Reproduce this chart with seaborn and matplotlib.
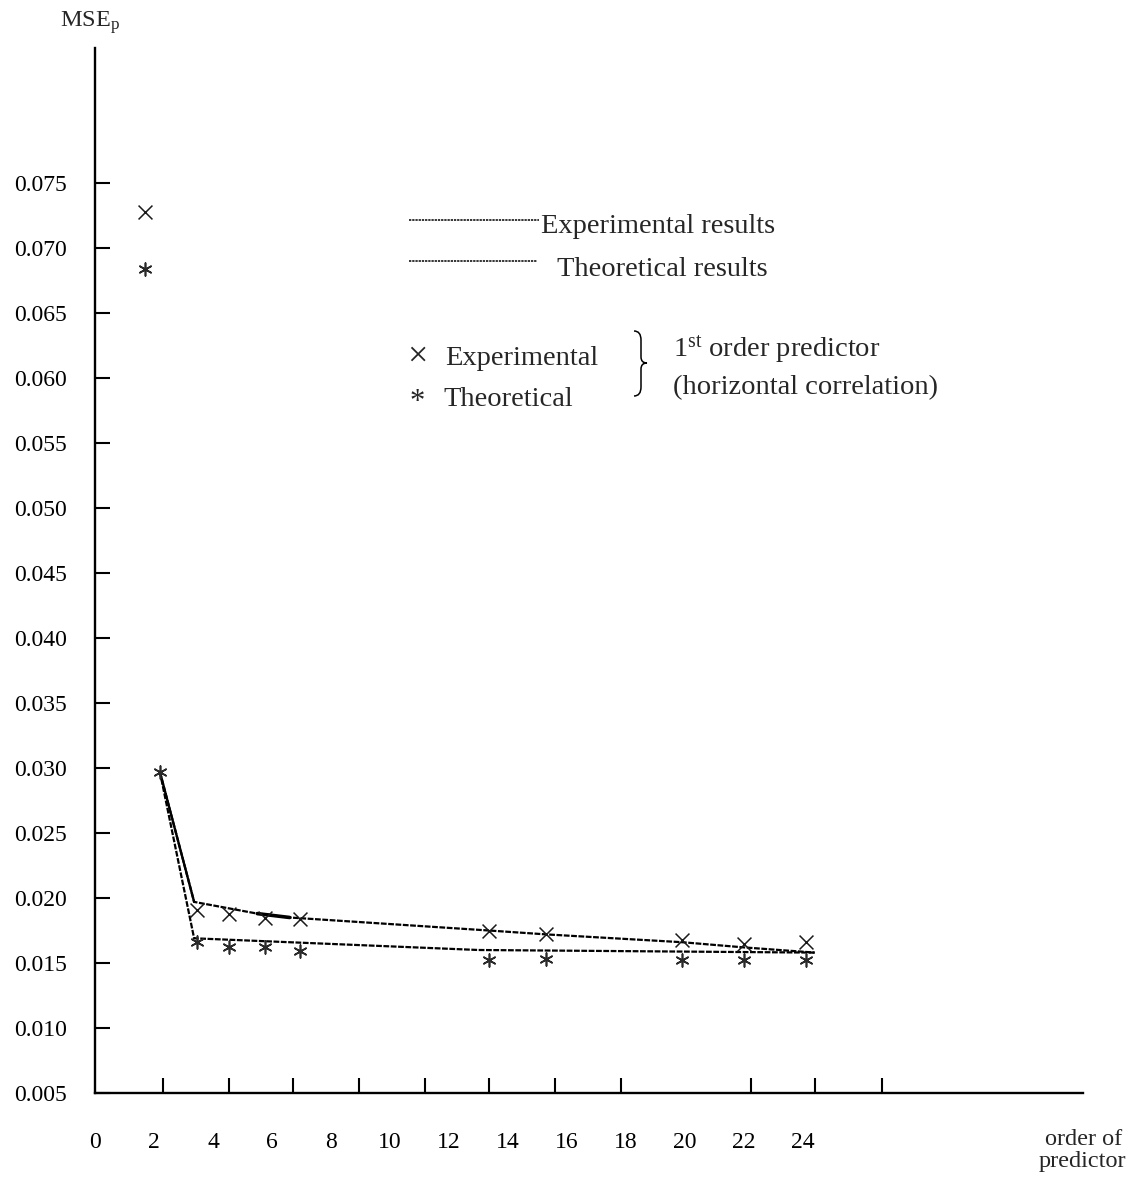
import matplotlib
matplotlib.use("Agg")
import matplotlib.pyplot as plt
import seaborn as sns
from matplotlib.path import Path
from matplotlib.patches import PathPatch
from matplotlib.lines import Line2D

# ---------------- data ----------------
exp_marker_order = [1.7, 3.45, 4.55, 5.75, 6.95, 13.35, 15.3, 19.9, 22.0, 24.1]
exp_marker_mse = [0.0728, 0.0191, 0.0188, 0.0185, 0.0184, 0.0175, 0.0172, 0.0168, 0.0165, 0.0166]

theo_marker_order = [1.7, 2.2, 3.45, 4.55, 5.75, 6.95, 13.35, 15.3, 19.9, 22.0, 24.1]
theo_marker_mse = [0.0684, 0.0297, 0.0166, 0.0162, 0.0162, 0.0159, 0.0152, 0.0153, 0.0152, 0.0152, 0.0152]

exp_curve_order = [2.2, 3.36, 5.5, 6.6, 13.35, 15.3, 19.9, 22.0, 24.4]
exp_curve_mse = [0.0297, 0.0197, 0.0188, 0.0185, 0.0175, 0.0172, 0.0166, 0.0162, 0.0158]

theo_curve_order = [2.2, 3.36, 13.0, 24.4]
theo_curve_mse = [0.0297, 0.0169, 0.0160, 0.0158]

x_tick_labels = ["0", "2", "4", "6", "8", "10", "12", "14", "16", "18", "20", "22", "24"]
y_tick_labels = ["0.005", "0.010", "0.015", "0.020", "0.025", "0.030", "0.035", "0.040",
                 "0.045", "0.050", "0.055", "0.060", "0.065", "0.070", "0.075"]

# ---------------- style ----------------
sns.set_theme(style="white")
plt.rcParams["font.family"] = ["Liberation Serif", "DejaVu Serif"]
plt.rcParams["mathtext.fontset"] = "custom"
plt.rcParams["mathtext.rm"] = "Liberation Serif"
plt.rcParams["mathtext.it"] = "Liberation Serif:italic"

W, H = 1137, 1185
fig = plt.figure(figsize=(W / 100, H / 100), dpi=100)
fig.patch.set_facecolor("white")

def fx(px):
    return px / W

def fy(py):
    return 1 - py / H

ax_left, ax_right, ax_top, ax_bottom = 95, 1083, 48, 1093
ax = fig.add_axes([fx(ax_left), fy(ax_bottom), fx(ax_right) - fx(ax_left), fy(ax_top) - fy(ax_bottom)])
ax.set_facecolor("white")

dash = (0, (2.6, 0.7))
sns.lineplot(x=exp_curve_order, y=exp_curve_mse, sort=False, estimator=None, ax=ax,
             color="black", linewidth=1.6, linestyle=dash)
# solid drop segment and the heavier short piece of the experimental curve
sns.lineplot(x=exp_curve_order[:2], y=exp_curve_mse[:2], sort=False, estimator=None, ax=ax,
             color="black", linewidth=1.7)
sns.lineplot(x=exp_curve_order[2:4], y=exp_curve_mse[2:4], sort=False, estimator=None, ax=ax,
             color="black", linewidth=2.6)
sns.lineplot(x=theo_curve_order, y=theo_curve_mse, sort=False, estimator=None, ax=ax,
             color="black", linewidth=1.6, linestyle=dash)

sns.scatterplot(x=exp_marker_order, y=exp_marker_mse, marker="x", s=100, color="#1a1a1a",
                linewidth=1.1, ax=ax, zorder=3)
sns.scatterplot(x=theo_marker_order, y=theo_marker_mse, marker=(6, 2, 0), s=85, color="#2a2a2a",
                linewidth=1.2, ax=ax, zorder=3)

ax.set_xlim(0, (ax_right - ax_left) / 29.5)
ax.set_ylim(0.005, 0.005 + (ax_bottom - ax_top) / 13000)

for s in ["top", "right"]:
    ax.spines[s].set_visible(False)
for s in ["left", "bottom"]:
    ax.spines[s].set_color("black")
    ax.spines[s].set_linewidth(1.7)

x_ticks = [int(t) for t in x_tick_labels]
ax.set_xticks(x_ticks)
ax.set_xticklabels(x_tick_labels)
tick_marks = [2.305, 4.542, 6.712, 8.949, 11.186, 13.356, 15.593, 17.83, 20.0, 22.237, 24.407, 26.678]
ax.set_xticks(tick_marks, minor=True)

y_ticks = [float(t) for t in y_tick_labels]
ax.set_yticks(y_ticks)
ax.set_yticklabels(y_tick_labels)

ax.tick_params(axis="x", which="major", bottom=True, length=0, pad=28, labelsize=17, colors="black")
ax.tick_params(axis="x", which="minor", bottom=True, length=11, width=1.5, direction="in", color="black")
ax.tick_params(axis="y", which="major", left=True, length=11, width=1.5, direction="in",
               pad=20, labelsize=17, colors="black")
ax.set_xlabel("")
ax.set_ylabel("")
ax.grid(False)

# axis titles
fig.text(fx(60), fy(27), r"MSE$_{\mathrm{p}}$", ha="left", va="baseline", fontsize=17.5)
fig.text(fx(1084), fy(1145), "order of", ha="center", va="baseline", fontsize=17.5)
fig.text(fx(1082), fy(1167), "predictor", ha="center", va="baseline", fontsize=17.5)

# legend-like annotation
fs = 20.5
fig.add_artist(Line2D([fx(409), fx(539)], [fy(220), fy(220)], color="black", lw=1.1,
                      linestyle=(0, (1.5, 0.6))))
fig.add_artist(Line2D([fx(409), fx(537)], [fy(261), fy(261)], color="black", lw=1.1,
                      linestyle=(0, (1.5, 0.6))))
fig.text(fx(541), fy(233), "Experimental results", ha="left", va="baseline", fontsize=fs)
fig.text(fx(557), fy(276), "Theoretical results", ha="left", va="baseline", fontsize=fs)
fig.text(fx(417), fy(366), "\u00d7", ha="center", va="baseline", fontsize=26)
fig.text(fx(445), fy(365), "Experimental", ha="left", va="baseline", fontsize=fs)
fig.text(fx(417), fy(410), "*", ha="center", va="baseline", fontsize=22)
fig.text(fx(443), fy(406), "Theoretical", ha="left", va="baseline", fontsize=fs)
fig.text(fx(673), fy(356), r"1$^{\mathrm{st}}$ order predictor", ha="left", va="baseline", fontsize=fs)
fig.text(fx(673), fy(394), "(horizontal correlation)", ha="left", va="baseline", fontsize=fs)

# brace
bp = [(634, 331), (641, 331), (641, 340), (641, 357), (641, 363), (647, 363),
      (641, 363), (641, 369), (641, 387), (641, 396), (634, 396)]
codes = [Path.MOVETO, Path.CURVE3, Path.CURVE3, Path.LINETO, Path.CURVE3, Path.CURVE3,
         Path.CURVE3, Path.CURVE3, Path.LINETO, Path.CURVE3, Path.CURVE3]
brace = Path([(fx(a), fy(b)) for a, b in bp], codes)
fig.add_artist(PathPatch(brace, transform=fig.transFigure, fill=False, edgecolor="black", lw=1.1))

fig.savefig("out.png", dpi=100, facecolor="white")
